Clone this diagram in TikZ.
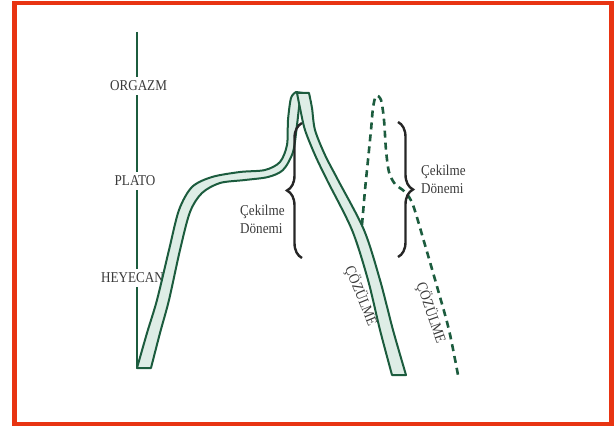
\documentclass[tikz,border=0pt]{standalone}
\usepackage{fontspec}
\setmainfont{Liberation Serif}[FakeStretch=0.875]
\usepackage{tikz}
\usetikzlibrary{decorations.pathreplacing,positioning}
\definecolor{bandgreen}{RGB}{28,92,62}
\definecolor{bandfill}{RGB}{222,237,230}
\definecolor{framered}{RGB}{232,52,18}
\definecolor{labelgrey}{RGB}{58,58,58}

\begin{document}
\begin{tikzpicture}[x=1pt, y=-1pt,
    stage/.style={fill=white, text=labelgrey, font=\fontsize{15}{18}\selectfont,
        inner sep=4pt},
    phase/.style={text=labelgrey, font=\fontsize{15}{18}\selectfont,
        align=left, inner sep=0pt},
    band/.style={draw=bandgreen, line width=2pt, fill=bandfill, line join=round},
    faint/.style={draw=bandgreen, line width=2.6pt, dash pattern=on 7pt off 5pt},
    bracket/.style={draw=black!85, line width=2.4pt, decorate,
        decoration={brace, amplitude=15pt}}
]
    \useasboundingbox (0,0) rectangle (614,428);
    \draw[framered, line width=4.5pt] (14.5,3) rectangle (611.5,424);

    % response axis
    \coordinate (axtop) at (136.6,32);
    \coordinate (axbot) at (136.6,368);
    \node[stage] (orgazm) at (138.5,86) {ORGAZM};
    \node[stage] (plato) at (135,181) {PLATO};
    \node[stage] (heyecan) at (132.5,278) {HEYECAN};
    \draw[bandgreen, line width=2pt] (axtop) -- (axtop |- orgazm.north);
    \draw[bandgreen, line width=2pt] (axtop |- orgazm.south) -- (axtop |- plato.north);
    \draw[bandgreen, line width=2pt] (axtop |- plato.south) -- (axtop |- heyecan.north);
    \draw[bandgreen, line width=2pt] (axtop |- heyecan.south) -- (axbot);

    % rising strand
    \draw[band] plot[smooth] coordinates {(137,368) (147,333) (157,300) (169,250)
        (179,210) (192,187) (212,177) (240,172) (265,170) (280,162) (287,145)
        (288,120) (291,98) (296,92)}
        -- plot[smooth] coordinates {(303,93) (300,100) (297,125) (293,152)
        (283,170) (268,177) (245,180) (220,183) (202,193) (190,212) (180,250)
        (169,300) (160,333) (151,368)} -- cycle;
    % falling strand
    \draw[band] plot[smooth] coordinates {(297,93) (300,108) (305,130) (315,155)
        (327,180) (352,230) (368,280) (380,330) (392,375)}
        -- plot[smooth] coordinates {(406,375) (393,330) (380,280) (364,230)
        (338,180) (325,155) (315,130) (312,108) (309,93)} -- cycle;

    % second response
    \draw[faint] plot[smooth] coordinates {(362,225) (365,190) (368,160) (371,130)
        (373,108) (376,96) (381,100) (384,120) (386,150) (389,172) (395,184)
        (405,192) (413,205) (425,245) (438,290) (449,330) (458,375)};

    % refractory periods
    \coordinate (b1top) at (302,123);
    \coordinate (b1bot) at (302,258);
    \coordinate (b2top) at (398,122);
    \coordinate (b2bot) at (398,257);
    \draw[bracket] (b1bot) -- (b1top);
    \draw[bracket] (b2top) -- (b2bot);
    \node[phase, anchor=west] (cek1) at (240,219) {Çekilme\\Dönemi};
    \node[phase, anchor=west] (cek2) at (421,179) {Çekilme\\Dönemi};

    \node[phase, rotate=-68] (coz1) at (361,296) {ÇÖZÜLME};
    \node[phase, rotate=-71] (coz2) at (431,313) {ÇÖZÜLME};
\end{tikzpicture}
\end{document}
